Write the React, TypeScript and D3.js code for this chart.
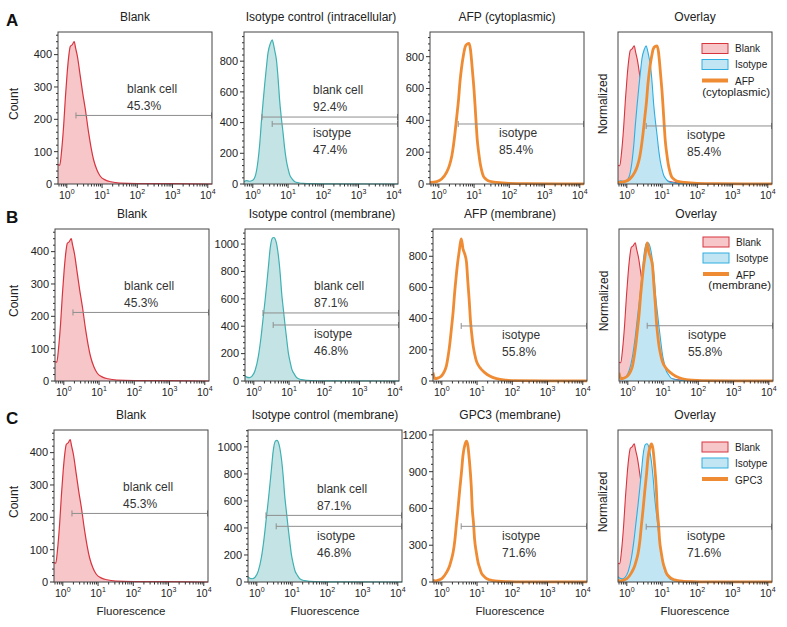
import React from "react";
import * as d3 from "d3";

type Pt = [number, number];

// x axis: log10(fluorescence) range shown
const LOG_MIN = -0.25;
const LOG_MAX = 4.12;

// Histograms: [log10(fluorescence), count]
const blankCurve: Pt[] = [
  [-0.25, 60], [-0.2, 58], [-0.15, 100], [-0.09, 180], [-0.04, 268], [0.01, 343], [0.06, 400],
  [0.1, 426], [0.15, 430], [0.21, 440], [0.25, 420], [0.3, 395], [0.38, 335], [0.45, 282],
  [0.53, 228], [0.62, 158], [0.69, 112], [0.76, 75], [0.85, 45], [0.95, 24], [1.1, 12],
  [1.25, 7], [1.5, 3], [2, 1.5], [3, 1], [4.12, 0],
];
const isoIntraCurve: Pt[] = [
  [-0.25, 15], [-0.18, 22], [-0.1, 18], [0.0, 25], [0.08, 60], [0.15, 156], [0.2, 270],
  [0.24, 395], [0.29, 530], [0.34, 656], [0.39, 770], [0.43, 852], [0.5, 917], [0.55, 939],
  [0.59, 906], [0.63, 860], [0.67, 808], [0.72, 680], [0.76, 548], [0.81, 430], [0.86, 330],
  [0.9, 240], [0.95, 156], [1.0, 100], [1.05, 58], [1.12, 32], [1.19, 15], [1.3, 8],
  [1.43, 4], [1.7, 2], [2.2, 1], [4.12, 0],
];
const isoMemCurve: Pt[] = [
  [-0.25, 40], [-0.2, 28], [-0.13, 24], [-0.05, 35], [0.04, 80], [0.13, 182], [0.2, 310],
  [0.27, 473], [0.32, 590], [0.37, 716], [0.42, 850], [0.46, 959], [0.53, 1044], [0.57, 1048],
  [0.63, 1019], [0.7, 910], [0.75, 780], [0.79, 643], [0.84, 520], [0.89, 400], [0.94, 290],
  [0.98, 206], [1.03, 140], [1.08, 85], [1.15, 50], [1.22, 24], [1.35, 10], [1.5, 5],
  [1.8, 2], [2.3, 1], [4.12, 0],
];
const afpCytoCurve: Pt[] = [
  [-0.25, 10], [-0.06, 15], [0.08, 31], [0.22, 73], [0.3, 115], [0.37, 177], [0.42, 250],
  [0.46, 322], [0.51, 425], [0.56, 530], [0.6, 640], [0.65, 738], [0.7, 810], [0.75, 863],
  [0.8, 879], [0.86, 883], [0.9, 842], [0.93, 775], [0.96, 696], [1.0, 590], [1.03, 489],
  [1.06, 380], [1.09, 281], [1.13, 200], [1.17, 135], [1.21, 90], [1.26, 52], [1.33, 32],
  [1.4, 21], [1.52, 14], [1.64, 10], [2.0, 4], [2.5, 2], [4.12, 1],
];
const afpMemCurve: Pt[] = [
  [-0.25, 55], [-0.2, 15], [-0.1, 20], [-0.01, 32], [0.07, 60], [0.13, 97], [0.18, 160],
  [0.22, 225], [0.27, 330], [0.32, 440], [0.36, 555], [0.41, 676], [0.45, 760], [0.49, 826],
  [0.53, 890], [0.555, 912], [0.6, 848], [0.65, 815], [0.7, 762], [0.74, 633], [0.78, 510],
  [0.81, 397], [0.85, 300], [0.89, 225], [0.94, 165], [0.98, 129], [1.08, 86], [1.22, 54],
  [1.36, 32], [1.55, 15], [1.83, 5], [2.1, 2], [4.12, 1],
];
const gpc3Curve: Pt[] = [
  [-0.25, 20], [-0.2, 8], [-0.1, 15], [0.0, 27], [0.13, 76], [0.22, 131], [0.27, 180],
  [0.32, 240], [0.37, 340], [0.41, 458], [0.46, 600], [0.51, 757], [0.56, 900], [0.6, 1030],
  [0.66, 1125], [0.7, 1150], [0.74, 1112], [0.78, 1000], [0.81, 894], [0.84, 760], [0.86, 621],
  [0.9, 480], [0.93, 349], [0.98, 240], [1.03, 158], [1.08, 110], [1.12, 76], [1.19, 48],
  [1.26, 30], [1.35, 18], [1.45, 11], [1.6, 6], [1.83, 3], [2.3, 1], [4.12, 1],
];

const rowLetters = ["A", "B", "C"];
const rowTitles = [
  ["Blank", "Isotype control (intracellular)", "AFP (cytoplasmic)", "Overlay"],
  ["Blank", "Isotype control (membrane)", "AFP (membrane)", "Overlay"],
  ["Blank", "Isotype control (membrane)", "GPC3 (membrane)", "Overlay"],
];
const isotypeCurves = [isoIntraCurve, isoMemCurve, isoMemCurve];
const markerCurves = [afpCytoCurve, afpMemCurve, gpc3Curve];
const countMax = [
  [470, 990, 955],
  [470, 1110, 975],
  [470, 1125, 1240],
];
const countStep = [
  [100, 200, 200],
  [100, 200, 200],
  [100, 200, 300],
];
const NORM_MAX = 110;

// gate heights (data units) and percentages
const gateBlankY = [212, 212, 212];
const gateIsoBlankY = [436, 497, 493];
const gateIsoIsoY = [391, 409, 412];
const gateMarkerY = [377, 353, 454];
const gateOverlayY = [42, 40, 40];
const pctBlank = ["45.3%", "45.3%", "45.3%"];
const pctIsoBlank = ["92.4%", "87.1%", "87.1%"];
const pctIsoIso = ["47.4%", "46.8%", "46.8%"];
const pctMarker = ["85.4%", "55.8%", "71.6%"];
const legendMarker = [["AFP", "(cytoplasmic)"], ["AFP", "(membrane)"], ["GPC3"]];
const GATE_BLANK_FROM = 0.26;
const GATE_ISO_FROM = 0.55;
const LABEL_LOG_X = 1.71;

// layout
const colLefts = [
  [58, 244, 430, 618],
  [55, 245, 433, 619],
  [54, 248, 433, 618],
];
const rowTops = [32, 229, 430];
const legendOffsets = [16.5, 13, 17];
const PW = 154;
const PH = 152;

const FONT = "'Liberation Sans', Arial, sans-serif";
const C_BLANK_STROKE = "#d8343e";
const C_BLANK_FILL = "#f6c6c9";
const C_TEAL_STROKE = "#3fb1b3";
const C_TEAL_FILL = "#c4e3e4";
const C_BLUE_STROKE = "#2eaee0";
const C_BLUE_FILL = "#c2e5f4";
const C_ORANGE = "#ef8b33";
const C_GATE = "#8e8e8e";

type Series = { data: Pt[]; fill?: string; stroke: string; width: number; norm?: boolean };
type Gate = { from: number; y: number; lines: string[]; side: "above" | "below" };

function Panel(props: {
  x0: number; y0: number; title: string; yMax: number; yStep: number | null;
  series: Series[]; gates: Gate[]; showXLabel: boolean;
  yLabel: string; yLabelX: number; id: string;
}) {
  const { x0, y0, title, yMax, yStep, series, gates, showXLabel, yLabel, yLabelX, id } = props;
  const x = d3.scaleLog().domain([Math.pow(10, LOG_MIN), Math.pow(10, LOG_MAX)]).range([x0, x0 + PW]);
  const y = d3.scaleLinear().domain([0, yMax]).range([y0 + PH, y0]);
  const bottom = y0 + PH;

  const paths = series.map((s, i) => {
    const mx = d3.max(s.data, (d) => d[1]) as number;
    const val = (d: Pt) => (s.norm ? (d[1] / mx) * 100 : d[1]);
    const xs = (d: Pt) => x(Math.pow(10, d[0]));
    const area = d3.area<Pt>().x(xs).y0(y(0)).y1((d) => y(val(d))).curve(d3.curveMonotoneX);
    const line = d3.line<Pt>().x(xs).y((d) => y(val(d))).curve(d3.curveMonotoneX);
    return (
      <g key={i}>
        {s.fill && <path d={area(s.data) || ""} fill={s.fill} stroke="none" />}
        <path d={line(s.data) || ""} fill="none" stroke={s.stroke} strokeWidth={s.width} strokeLinejoin="round" />
      </g>
    );
  });

  // ticks
  const xMajor = [1, 10, 100, 1000, 10000];
  const xMinor: number[] = [];
  for (let e = -1; e <= 4; e++) {
    for (let k = 2; k <= 9; k++) {
      const v = k * Math.pow(10, e);
      if (Math.log10(v) >= LOG_MIN && Math.log10(v) <= LOG_MAX) xMinor.push(v);
    }
  }
  const yTicks: { v: number; major: boolean }[] = [];
  if (yStep) {
    const sub = yStep / 5;
    for (let i = 0; i * sub <= yMax; i++) yTicks.push({ v: i * sub, major: i % 5 === 0 });
  }

  const labelX = x(Math.pow(10, LABEL_LOG_X));
  const xEnd = x0 + PW;

  return (
    <g>
      <defs>
        <clipPath id={id}>
          <rect x={x0} y={y0} width={PW} height={PH + 2} />
        </clipPath>
      </defs>
      <text x={x0 + PW / 2} y={y0 - 11} textAnchor="middle" fontSize={12} fill="#222">{title}</text>
      <g clipPath={`url(#${id})`}>{paths}</g>
      {gates.map((g, i) => {
        const gy = y(g.y);
        const gx = x(Math.pow(10, g.from));
        const c1 = g.side === "above" ? gy - 27 : gy + 9;
        const c2 = c1 + 17;
        return (
          <g key={i}>
            <line x1={gx} x2={xEnd} y1={gy} y2={gy} stroke={C_GATE} strokeWidth={1} />
            <line x1={gx} x2={gx} y1={gy - 3} y2={gy + 3} stroke={C_GATE} strokeWidth={1} />
            <line x1={xEnd - 0.5} x2={xEnd - 0.5} y1={gy - 3} y2={gy + 3} stroke={C_GATE} strokeWidth={1} />
            <text x={labelX} y={c1} dy="0.35em" fontSize={12} fill="#333">{g.lines[0]}</text>
            <text x={labelX} y={c2} dy="0.35em" fontSize={12} fill="#333">{g.lines[1]}</text>
          </g>
        );
      })}
      <rect x={x0} y={y0} width={PW} height={PH} fill="none" stroke="#444" strokeWidth={1} />
      {xMajor.map((v) => (
        <g key={"xm" + v}>
          <line x1={x(v)} x2={x(v)} y1={bottom} y2={bottom + 4} stroke="#333" />
          <text x={x(v)} y={bottom + 15} textAnchor="middle" fontSize={10.5} fill="#222">
            10<tspan dy={-5} fontSize={7}>{Math.round(Math.log10(v))}</tspan>
          </text>
        </g>
      ))}
      {xMinor.map((v) => (
        <line key={"xn" + v} x1={x(v)} x2={x(v)} y1={bottom} y2={bottom + 2.5} stroke="#333" />
      ))}
      {yTicks.map((t) => (
        <g key={"y" + t.v}>
          <line x1={x0 - (t.major ? 4 : 2)} x2={x0} y1={y(t.v)} y2={y(t.v)} stroke="#333" />
          {t.major && (
            <text x={x0 - 6} y={y(t.v)} dy="0.35em" textAnchor="end" fontSize={11} fill="#222">{t.v}</text>
          )}
        </g>
      ))}
      {yLabel && (
        <text
          transform={`translate(${yLabelX},${y0 + PH / 2 - 4}) rotate(-90)`}
          textAnchor="middle" fontSize={12} fill="#222"
        >
          {yLabel}
        </text>
      )}
      {showXLabel && (
        <text x={x0 + PW / 2} y={bottom + 33} textAnchor="middle" fontSize={11.5} fill="#222">Fluorescence</text>
      )}
    </g>
  );
}

function Legend(props: { x0: number; y0: number; off: number; marker: string[] }) {
  const { x0, y0, off, marker } = props;
  const bx = x0 + 84;
  const tx = x0 + 117;
  const c0 = y0 + off;
  const step = 16;
  return (
    <g fontSize={10} fill="#222">
      <rect x={bx} y={c0 - 5} width={26} height={10} fill={C_BLANK_FILL} stroke={C_BLANK_STROKE} />
      <text x={tx} y={c0} dy="0.35em">Blank</text>
      <rect x={bx} y={c0 + step - 5} width={26} height={10} fill={C_BLUE_FILL} stroke={C_BLUE_STROKE} />
      <text x={tx} y={c0 + step} dy="0.35em">Isotype</text>
      <line x1={bx} x2={bx + 26} y1={c0 + 2 * step} y2={c0 + 2 * step} stroke={C_ORANGE} strokeWidth={4} />
      <text x={tx} y={c0 + 2 * step + 1} dy="0.35em">{marker[0]}</text>
      {marker[1] && (
        <text x={x0 + PW - 2} y={c0 + 2 * step + 11} dy="0.35em" textAnchor="end" fontSize={11.5}>{marker[1]}</text>
      )}
    </g>
  );
}

export default function App() {
  const items: React.ReactNode[] = [];
  for (let r = 0; r < 3; r++) {
    const y0 = rowTops[r];
    const lefts = colLefts[r];
    items.push(
      <text key={"L" + r} x={6} y={y0 - 12} dy="0.35em" fontSize={17} fontWeight="bold" fill="#111">
        {rowLetters[r]}
      </text>
    );
    items.push(
      <Panel key={`p${r}0`} id={`c${r}0`} x0={lefts[0]} y0={y0} title={rowTitles[r][0]}
        yMax={countMax[r][0]} yStep={countStep[r][0]}
        series={[{ data: blankCurve, fill: C_BLANK_FILL, stroke: C_BLANK_STROKE, width: 1.2 }]}
        gates={[{ from: GATE_BLANK_FROM, y: gateBlankY[r], lines: ["blank cell", pctBlank[r]], side: "above" }]}
        showXLabel={r === 2} yLabel="Count" yLabelX={18} />
    );
    items.push(
      <Panel key={`p${r}1`} id={`c${r}1`} x0={lefts[1]} y0={y0} title={rowTitles[r][1]}
        yMax={countMax[r][1]} yStep={countStep[r][1]}
        series={[{ data: isotypeCurves[r], fill: C_TEAL_FILL, stroke: C_TEAL_STROKE, width: 1.2 }]}
        gates={[
          { from: GATE_BLANK_FROM, y: gateIsoBlankY[r], lines: ["blank cell", pctIsoBlank[r]], side: "above" },
          { from: GATE_ISO_FROM, y: gateIsoIsoY[r], lines: ["isotype", pctIsoIso[r]], side: "below" },
        ]}
        showXLabel={r === 2} yLabel="" yLabelX={0} />
    );
    items.push(
      <Panel key={`p${r}2`} id={`c${r}2`} x0={lefts[2]} y0={y0} title={rowTitles[r][2]}
        yMax={countMax[r][2]} yStep={countStep[r][2]}
        series={[{ data: markerCurves[r], stroke: C_ORANGE, width: 2.8 }]}
        gates={[{ from: GATE_ISO_FROM, y: gateMarkerY[r], lines: ["isotype", pctMarker[r]], side: "below" }]}
        showXLabel={r === 2} yLabel="" yLabelX={0} />
    );
    items.push(
      <Panel key={`p${r}3`} id={`c${r}3`} x0={lefts[3]} y0={y0} title={rowTitles[r][3]}
        yMax={NORM_MAX} yStep={null}
        series={[
          { data: blankCurve, fill: C_BLANK_FILL, stroke: C_BLANK_STROKE, width: 1.1, norm: true },
          { data: isotypeCurves[r], fill: C_BLUE_FILL, stroke: C_BLUE_STROKE, width: 1.1, norm: true },
          { data: markerCurves[r], stroke: C_ORANGE, width: 2.8, norm: true },
        ]}
        gates={[{ from: GATE_ISO_FROM, y: gateOverlayY[r], lines: ["isotype", pctMarker[r]], side: "below" }]}
        showXLabel={r === 2} yLabel="Normalized" yLabelX={lefts[3] - 11} />
    );
    items.push(<Legend key={"lg" + r} x0={lefts[3]} y0={y0} off={legendOffsets[r]} marker={legendMarker[r]} />);
  }
  return (
    <svg width={787} height={627} style={{ position: "absolute", left: 0, top: 0, background: "#fff" }}
      fontFamily={FONT}>
      <rect x={0} y={0} width={787} height={627} fill="#fff" />
      {items}
    </svg>
  );
}
